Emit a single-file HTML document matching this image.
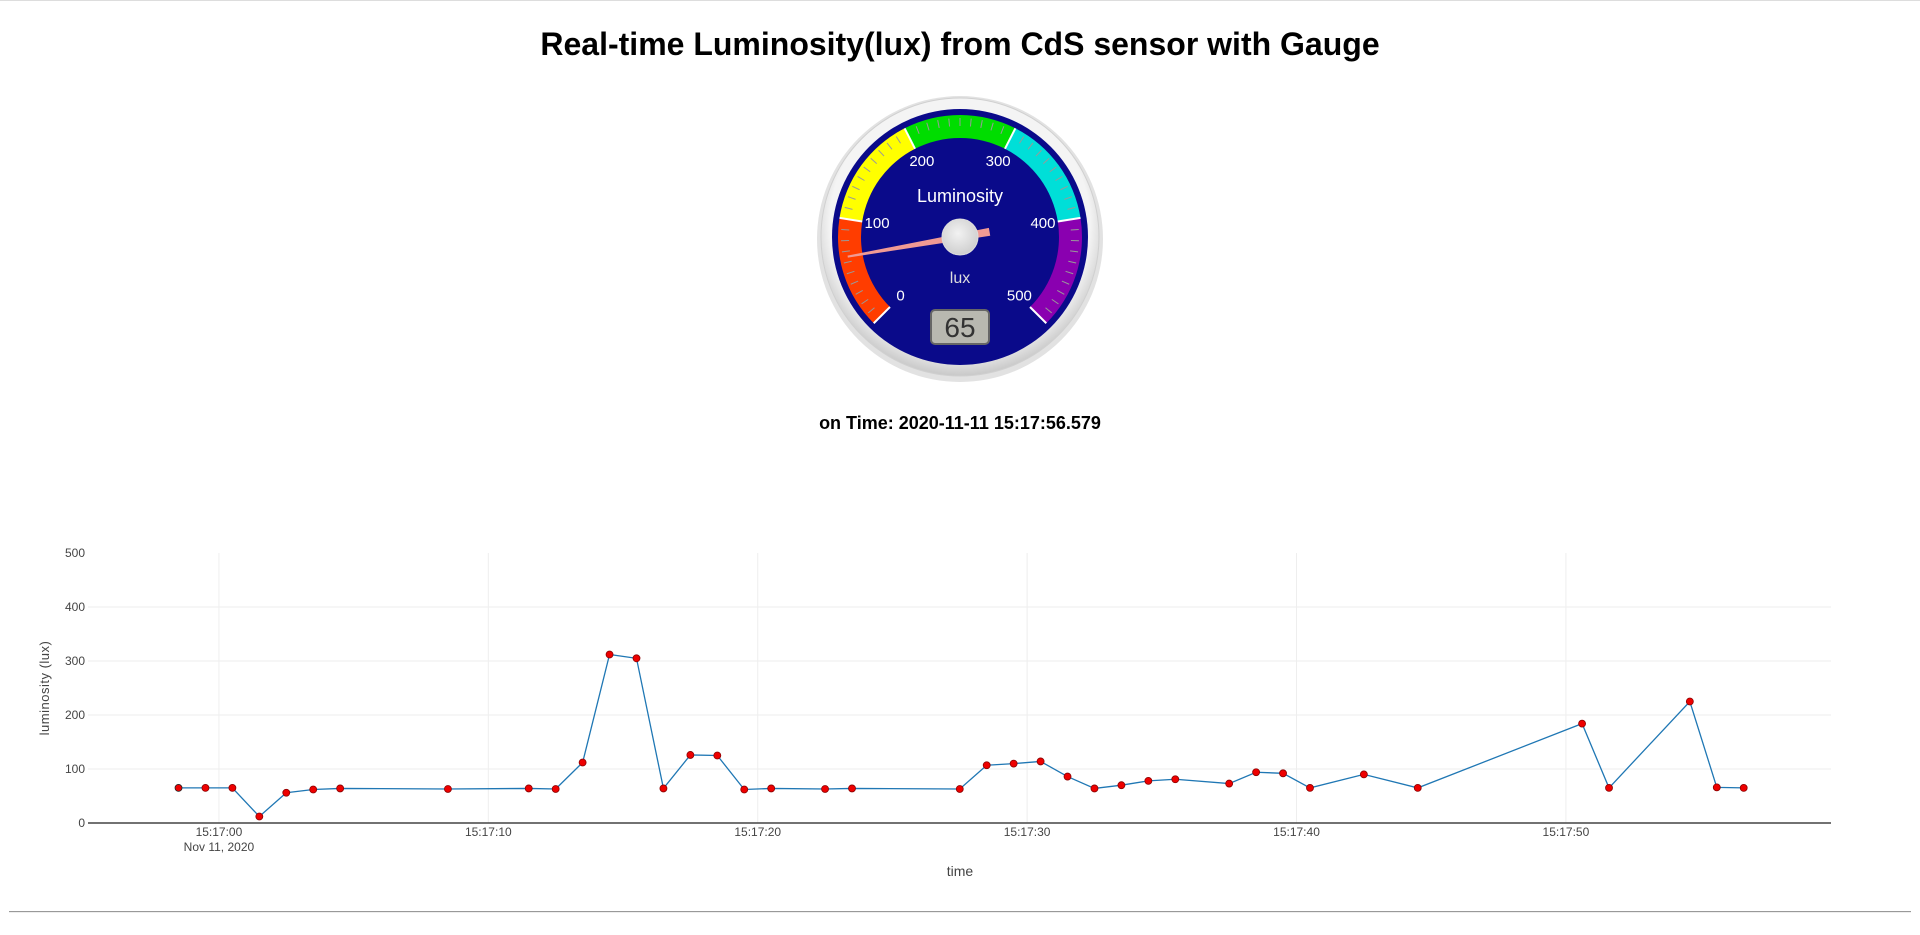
<!DOCTYPE html>
<html><head><meta charset="utf-8"><style>
html,body{margin:0;padding:0;background:#fff;width:1920px;height:935px;overflow:hidden;font-family:"Liberation Sans",sans-serif;}
#topline{position:absolute;left:0;top:0;width:1920px;height:1px;background:#ddd}
#title{position:absolute;left:0;top:26px;width:1920px;text-align:center;font-size:32px;font-weight:bold;color:#000;font-family:"Liberation Sans",sans-serif;}
#time{position:absolute;left:0;top:413px;width:1920px;text-align:center;font-size:18px;font-weight:bold;font-family:"Liberation Sans",sans-serif;}
#hr{position:absolute;left:9px;top:911px;width:1902px;height:1px;background:#999;border-bottom:1px solid #eee}
svg{position:absolute;left:0;top:0}
</style></head><body>
<div id="topline"></div>
<div id="title">Real-time Luminosity(lux) from CdS sensor with Gauge</div>
<svg id="gauge" width="1920" height="400"></svg>
<div id="time">on Time: 2020-11-11 15:17:56.579</div>
<svg id="chart" width="1920" height="935"></svg>
<div id="hr"></div>
<script>
const gaugeValue = 65;
const gaugeBands = [0,100,200,300,400,500];
const bandColors = ['#ff3d00','#ffff00','#00dd00','#00dfd8','#8a00b0'];
const gaugeLabels = [0,100,200,300,400,500];

const times = [-1.5,-0.5,0.5,1.5,2.5,3.5,4.5,8.5,11.5,12.5,13.5,14.5,15.5,16.5,17.5,18.5,19.5,20.5,22.5,23.5,27.5,28.5,29.5,30.5,31.5,32.5,33.5,34.5,35.5,37.5,38.5,39.5,40.5,42.5,44.5,50.6,51.6,54.6,55.6,56.6];
const values = [65,65,65,12,56,62,64,63,64,63,112,312,305,64,126,125,62,64,63,64,63,107,110,114,86,64,70,78,81,73,94,92,65,90,65,184,65,225,66,65];
const yTicks = [0,100,200,300,400,500];
const xTicks = [0,10,20,30,40,50];
const xTickLabels = ['15:17:00','15:17:10','15:17:20','15:17:30','15:17:40','15:17:50'];

const NS='http://www.w3.org/2000/svg';
function mk(parent,tag,attrs,text){const e=document.createElementNS(NS,tag);for(const k in attrs)e.setAttribute(k,attrs[k]);if(text!==undefined)e.textContent=text;parent.appendChild(e);return e;}

// ---- gauge ----
const g=document.getElementById('gauge');
const cx=960,cy=237;
const defs=mk(g,'defs',{});
const rg=mk(defs,'radialGradient',{id:'bez',cx:'50%',cy:'45%',r:'55%'});
mk(rg,'stop',{offset:'85%','stop-color':'#f4f4f4'});mk(rg,'stop',{offset:'100%','stop-color':'#c8c8c8'});
const kg=mk(defs,'radialGradient',{id:'knob',cx:'45%',cy:'40%',r:'60%'});
mk(kg,'stop',{offset:'0%','stop-color':'#f2f2f2'});mk(kg,'stop',{offset:'100%','stop-color':'#cfcfcf'});
let el=mk(g,'circle',{cx:cx,cy:cy+2,r:143,fill:'#e2e2e2'});

el=mk(g,'circle',{cx:cx,cy:cy,r:139,fill:'url(#bez)',stroke:'#d0d0d0','stroke-width':1});

el=mk(g,'circle',{cx:cx,cy:cy,r:128,fill:'#0a0a8a'});

function ang(v){return (-135+v/500*270)*Math.PI/180;}
function pt(v,r){const a=ang(v);return [cx+r*Math.sin(a),cy-r*Math.cos(a)];}
const rO=122,rI=99;
for(let i=0;i<bandColors.length;i++){
  const a=gaugeBands[i],b=gaugeBands[i+1];
  const p1=pt(a,rO),p2=pt(b,rO),p3=pt(b,rI),p4=pt(a,rI);
  el=mk(g,'path',{d:`M${p1} A${rO} ${rO} 0 0 1 ${p2} L${p3} A${rI} ${rI} 0 0 0 ${p4}Z`,fill:bandColors[i]});
  
}
for(let v=0;v<=500;v+=10){
  if(v%100===0){const a=pt(v,rO),b=pt(v,rI);mk(g,'line',{x1:a[0],y1:a[1],x2:b[0],y2:b[1],stroke:'#fff','stroke-width':2});}
  else{const a=pt(v,rO-3),b=pt(v,rO-11);mk(g,'line',{x1:a[0],y1:a[1],x2:b[0],y2:b[1],stroke:'#999','stroke-width':1});}
}
gaugeLabels.forEach(v=>{const p=pt(v,84);el=mk(g,'text',{x:p[0],y:p[1]+4,'text-anchor':'middle','font-size':15,fill:'#fff'},String(v));
});
el=mk(g,'text',{x:cx,y:cy-35,'text-anchor':'middle','font-size':18,fill:'#fff'},'Luminosity');

el=mk(g,'text',{x:cx,y:cy+46,'text-anchor':'middle','font-size':16,fill:'#ddd'},'lux');

el=mk(g,'rect',{x:cx-29,y:cy+73,width:58,height:34,rx:4,fill:'#b8b8b0',stroke:'#666','stroke-width':2});

el=mk(g,'text',{x:cx,y:cy+100,'text-anchor':'middle','font-size':28,fill:'#333'},String(gaugeValue));

{const tip=pt(gaugeValue,114),a=ang(gaugeValue);const px=Math.cos(a),py=Math.sin(a);
 const tail=[cx-30*Math.sin(a),cy+30*Math.cos(a)];
 el=mk(g,'path',{d:`M${tip[0]+px*1},${tip[1]+py*1} L${tail[0]+px*4},${tail[1]+py*4} L${tail[0]-px*4},${tail[1]-py*4} L${tip[0]-px*1},${tip[1]-py*1}Z`,fill:'#f09a94'});
 }
el=mk(g,'circle',{cx:cx,cy:cy,r:18,fill:'url(#knob)',stroke:'#ddd'});


// ---- chart ----
const c=document.getElementById('chart');
const L=88,R=1831,T=553,B=823;
const x0=-4.86,x1=59.84;
function X(s){return L+(s-x0)/(x1-x0)*(R-L);}
function Y(v){return B-v/500*(B-T);}
xTicks.forEach((t,i)=>{el=mk(c,'line',{x1:X(t),x2:X(t),y1:T,y2:B,stroke:'#eee','stroke-width':1});

el=mk(c,'text',{x:X(t),y:836,'text-anchor':'middle','font-size':12,fill:'#444'},xTickLabels[i]);
});
el=mk(c,'text',{x:X(0),y:851,'text-anchor':'middle','font-size':12,fill:'#444'},'Nov 11, 2020');

yTicks.forEach(v=>{if(v>0&&v<500){el=mk(c,'line',{x1:L,x2:R,y1:Y(v),y2:Y(v),stroke:'#eee','stroke-width':1});
}
el=mk(c,'text',{x:L-3,y:Y(v)+4,'text-anchor':'end','font-size':12,fill:'#444'},String(v));
});
el=mk(c,'line',{x1:L,x2:R,y1:B,y2:B,stroke:'#444','stroke-width':1.5});

el=mk(c,'text',{x:960,y:876,'text-anchor':'middle','font-size':14,fill:'#444'},'time');

el=mk(c,'text',{x:0,y:0,'text-anchor':'middle','font-size':13,fill:'#444','letter-spacing':'0.5',transform:`translate(49,${(T+B)/2}) rotate(-90)`},'luminosity (lux)');

el=mk(c,'polyline',{points:times.map((t,i)=>X(t)+','+Y(values[i])).join(' '),fill:'none',stroke:'#1f77b4','stroke-width':1.3});

times.forEach((t,i)=>{el=mk(c,'circle',{cx:X(t),cy:Y(values[i]),r:3.5,fill:'#ee0000',stroke:i===0?'#222':'#8b0000','stroke-width':0.8});
});
</script>
</body></html>
